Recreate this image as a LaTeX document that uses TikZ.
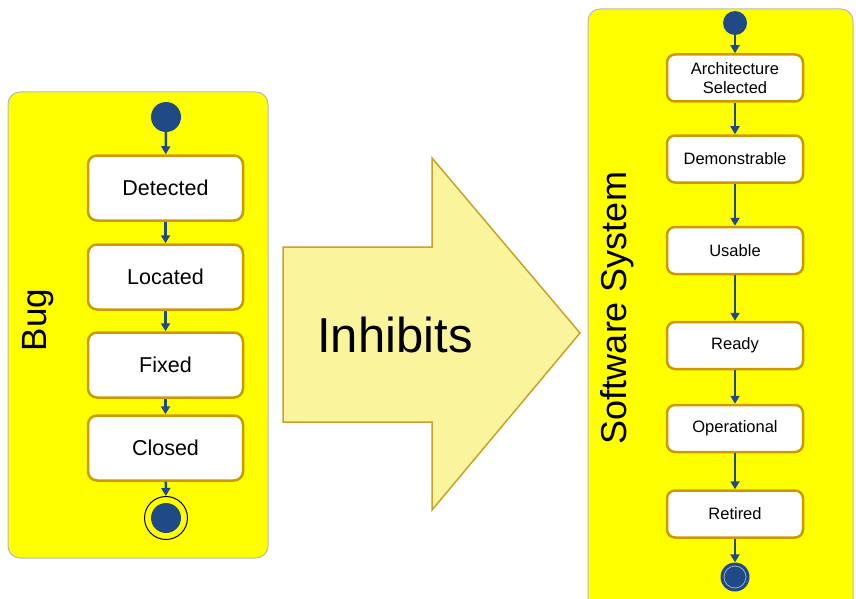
\documentclass[tikz,border=0pt]{standalone}
\usepackage{fontspec}
\setmainfont{Liberation Sans}
\usetikzlibrary{arrows.meta}
\definecolor{panelyellow}{HTML}{FFFF00}
\definecolor{boxborder}{HTML}{CC9900}
\definecolor{flowblue}{HTML}{1F4A85}
\definecolor{arrowfill}{HTML}{FAF59C}
\definecolor{arrowedge}{HTML}{C9A227}
\begin{document}
\begin{tikzpicture}[x=1pt,y=-1pt,
  panel/.style={draw=gray!55, line width=1pt, fill=panelyellow, rounded corners=12pt},
  bugstate/.style={draw=boxborder, line width=2.5pt, fill=white, rounded corners=9pt,
    minimum width=155pt, minimum height=65pt, inner sep=0pt, font=\fontsize{21.5}{24}\selectfont},
  sysstate/.style={draw=boxborder, line width=2.5pt, fill=white, rounded corners=8pt,
    minimum width=136pt, minimum height=47pt, inner sep=0pt, align=center, font=\fontsize{16.5}{19}\selectfont},
  flow/.style={draw=flowblue, line width=2.5pt, -{Triangle[width=9pt,length=8pt]}},
  startdot/.style={circle, fill=flowblue, inner sep=0pt},
  biglabel/.style={rotate=90, font=\fontsize{35}{38}\selectfont}
]
\useasboundingbox (0,0) rectangle (856,599);
\clip (0,0) rectangle (856,599);
\fill[white] (0,0) rectangle (856,599);

% panels
\path[panel] (8,92) rectangle (268,558);
\path[panel] (588,9) rectangle (853,640);

% big arrow
\draw[fill=arrowfill, draw=arrowedge, line width=1.5pt, line join=miter]
  (283,247) -- (432,247) -- (432,158) -- (580,333) -- (432,510) -- (432,422) -- (283,422) -- cycle;
\node[font=\fontsize{49}{52}\selectfont] (inhibits) at (395,335) {Inhibits};

% Bug panel
\node[biglabel] (buglabel) at (38,320) {Bug};
\node[startdot, minimum size=30pt] (bugstart) at (166,117) {};
\node[bugstate] (detected) at (165.5,188) {Detected};
\node[bugstate] (located) at (165.5,277) {Located};
\node[bugstate] (fixed) at (165.5,365) {Fixed};
\node[bugstate] (closed) at (165.5,448) {Closed};
\node[circle, draw=black, line width=1pt, minimum size=43pt, inner sep=0pt] (bugend) at (166,518) {};
\fill[flowblue] (bugend.center) circle (15pt);
\draw[flow] (bugstart) -- (detected);
\draw[flow] (detected) -- (located);
\draw[flow] (located) -- (fixed);
\draw[flow] (fixed) -- (closed);
\draw[flow] (closed) -- (bugend);

% Software System panel
\node[biglabel, font=\fontsize{36}{38}\selectfont] (syslabel) at (617,308) {Software System};
\node[startdot, minimum size=24pt] (sysstart) at (735,23) {};
\node[sysstate] (arch) at (735,78) {Architecture\\Selected};
\node[sysstate] (demo) at (735,159) {Demonstrable};
\node[sysstate] (usable) at (735,250.5) {Usable};
\node[sysstate] (ready) at (735,345.5) {Ready};
\node[sysstate] (oper) at (735,428.5) {Operational};
\node[sysstate] (retired) at (735,514) {Retired};
\node[startdot, minimum size=29pt] (sysend) at (735,577) {};
\draw[white!55!flowblue, line width=0.8pt] (sysend.center) circle (11pt);
\draw[flow] (sysstart) -- (arch);
\draw[flow] (arch) -- (demo);
\draw[flow] (demo) -- (usable);
\draw[flow] (usable) -- (ready);
\draw[flow] (ready) -- (oper);
\draw[flow] (oper) -- (retired);
\draw[flow] (retired) -- (sysend);
\end{tikzpicture}
\end{document}
